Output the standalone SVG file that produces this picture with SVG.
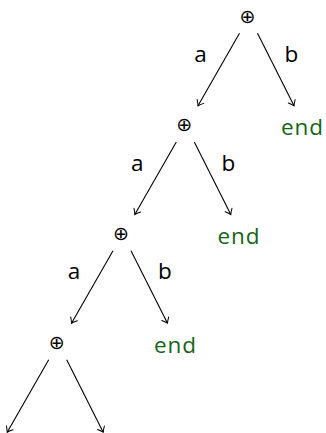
<svg xmlns="http://www.w3.org/2000/svg" width="326" height="433" viewBox="0 0 326 433">
<style>
  .op { font-family: "DejaVu Sans", sans-serif; font-size: 19px; fill: #000; text-anchor: middle; }
  .lbl { font-family: "Open Sans", "DejaVu Sans", sans-serif; font-size: 22.5px; font-weight: 500; fill: #000; text-anchor: middle; }
  .end { font-family: "Open Sans", "DejaVu Sans", sans-serif; font-size: 22.5px; font-weight: 500; fill: #146614; text-anchor: middle; letter-spacing: 1px; }
  .edge { stroke: #000; stroke-width: 1.1; fill: none; marker-end: url(#arr); }
</style>
<defs>
  <marker id="arr" viewBox="-6 -5 8 10" refX="0" refY="0" markerWidth="8" markerHeight="10" markerUnits="userSpaceOnUse" orient="auto">
    <path d="M-5,-3.8 Q-1.8,-1 0,0 Q-1.8,1 -5,3.8" fill="none" stroke="#000" stroke-width="1" stroke-linecap="round"/>
  </marker>
</defs>
<g id="connectors">
  <line class="edge" x1="239.5" y1="33.3" x2="198" y2="105.8"/>
  <line class="edge" x1="257.5" y1="33.3" x2="294" y2="105.8"/>
  <line class="edge" x1="176.3" y1="142" x2="134.8" y2="214.5"/>
  <line class="edge" x1="194.3" y1="142" x2="230.8" y2="214.5"/>
  <line class="edge" x1="113" y1="250.7" x2="71.5" y2="323.2"/>
  <line class="edge" x1="131" y1="250.7" x2="167.5" y2="323.2"/>
  <line class="edge" x1="48.7" y1="359.7" x2="7.2" y2="432.2"/>
  <line class="edge" x1="66.7" y1="359.7" x2="103.2" y2="432.2"/>
  <text class="lbl" x="200.5" y="62">a</text>
  <text class="lbl" x="291.5" y="62">b</text>
  <text class="lbl" x="137.3" y="170.7">a</text>
  <text class="lbl" x="228.3" y="170.7">b</text>
  <text class="lbl" x="74" y="279.4">a</text>
  <text class="lbl" x="165" y="279.4">b</text>
</g>
<g id="n1"><text class="op" x="247.5" y="22.5">⊕</text></g>
<g id="n2"><text class="op" x="184.3" y="131.2">⊕</text></g>
<g id="n3"><text class="op" x="121" y="239.9">⊕</text></g>
<g id="n4"><text class="op" x="56.7" y="348.9">⊕</text></g>
<g id="e1"><text class="end" x="302.5" y="135">end</text></g>
<g id="e2"><text class="end" x="239" y="244">end</text></g>
<g id="e3"><text class="end" x="175.5" y="352.7">end</text></g>
</svg>
